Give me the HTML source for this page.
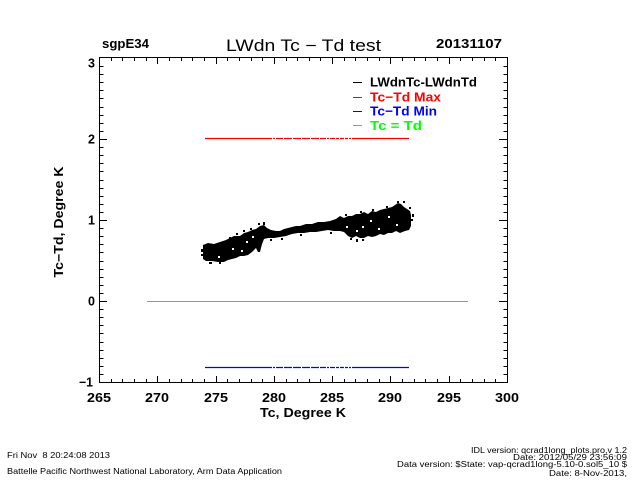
<!DOCTYPE html>
<html>
<head>
<meta charset="utf-8">
<style>
html,body{margin:0;padding:0;background:#fff;}
svg{display:block;}
text{font-family:"Liberation Sans",Arial,sans-serif;}
.b{font-weight:bold;}
</style>
</head>
<body>
<svg width="640" height="480" viewBox="0 0 640 480" xmlns="http://www.w3.org/2000/svg">
<rect x="0" y="0" width="640" height="480" fill="#fff"/>

<!-- header -->
<text x="102" y="48" class="b" font-size="13" textLength="47" lengthAdjust="spacingAndGlyphs">sgpE34</text>
<text x="226" y="51" font-size="16.5" textLength="155" lengthAdjust="spacingAndGlyphs">LWdn Tc − Td test</text>
<text x="436" y="48" class="b" font-size="13" textLength="66" lengthAdjust="spacingAndGlyphs">20131107</text>

<!-- plot box -->
<rect x="99.5" y="57.5" width="408" height="325" fill="none" stroke="#000" stroke-width="1"/>

<!-- x ticks bottom/top -->
<path stroke="#000" stroke-width="1" fill="none" d="
M99.5 382.5V376 M157.5 382.5V376 M216.5 382.5V376 M274.5 382.5V376 M332.5 382.5V376 M390.5 382.5V376 M449.5 382.5V376 M507.5 382.5V376
M111.5 382.5V379 M122.5 382.5V379 M134.5 382.5V379 M146.5 382.5V379
M169.5 382.5V379 M181.5 382.5V379 M192.5 382.5V379 M204.5 382.5V379
M227.5 382.5V379 M239.5 382.5V379 M251.5 382.5V379 M262.5 382.5V379
M286.5 382.5V379 M297.5 382.5V379 M309.5 382.5V379 M320.5 382.5V379
M344.5 382.5V379 M355.5 382.5V379 M367.5 382.5V379 M379.5 382.5V379
M402.5 382.5V379 M414.5 382.5V379 M425.5 382.5V379 M437.5 382.5V379
M460.5 382.5V379 M472.5 382.5V379 M484.5 382.5V379 M495.5 382.5V379
M99.5 57.5V64 M157.5 57.5V64 M216.5 57.5V64 M274.5 57.5V64 M332.5 57.5V64 M390.5 57.5V64 M449.5 57.5V64 M507.5 57.5V64
M111.5 57.5V61 M122.5 57.5V61 M134.5 57.5V61 M146.5 57.5V61
M169.5 57.5V61 M181.5 57.5V61 M192.5 57.5V61 M204.5 57.5V61
M227.5 57.5V61 M239.5 57.5V61 M251.5 57.5V61 M262.5 57.5V61
M286.5 57.5V61 M297.5 57.5V61 M309.5 57.5V61 M320.5 57.5V61
M344.5 57.5V61 M355.5 57.5V61 M367.5 57.5V61 M379.5 57.5V61
M402.5 57.5V61 M414.5 57.5V61 M425.5 57.5V61 M437.5 57.5V61
M460.5 57.5V61 M472.5 57.5V61 M484.5 57.5V61 M495.5 57.5V61
"/>

<!-- y ticks left/right -->
<path stroke="#000" stroke-width="1" fill="none" d="
M99.5 57.5H107 M99.5 139.5H107 M99.5 220.5H107 M99.5 301.5H107 M99.5 382.5H107
M99.5 66.5H103.5 M99.5 74.5H103.5 M99.5 82.5H103.5 M99.5 90.5H103.5 M99.5 98.5H103.5 M99.5 107.5H103.5 M99.5 115.5H103.5 M99.5 123.5H103.5 M99.5 131.5H103.5
M99.5 147.5H103.5 M99.5 155.5H103.5 M99.5 163.5H103.5 M99.5 171.5H103.5 M99.5 180.5H103.5 M99.5 188.5H103.5 M99.5 196.5H103.5 M99.5 204.5H103.5 M99.5 212.5H103.5
M99.5 228.5H103.5 M99.5 236.5H103.5 M99.5 244.5H103.5 M99.5 252.5H103.5 M99.5 261.5H103.5 M99.5 269.5H103.5 M99.5 277.5H103.5 M99.5 285.5H103.5 M99.5 293.5H103.5
M99.5 309.5H103.5 M99.5 317.5H103.5 M99.5 325.5H103.5 M99.5 333.5H103.5 M99.5 342.5H103.5 M99.5 350.5H103.5 M99.5 358.5H103.5 M99.5 366.5H103.5 M99.5 374.5H103.5
M507.5 57.5H499 M507.5 139.5H499 M507.5 220.5H499 M507.5 301.5H499 M507.5 382.5H499
M507.5 66.5H503.5 M507.5 74.5H503.5 M507.5 82.5H503.5 M507.5 90.5H503.5 M507.5 98.5H503.5 M507.5 107.5H503.5 M507.5 115.5H503.5 M507.5 123.5H503.5 M507.5 131.5H503.5
M507.5 147.5H503.5 M507.5 155.5H503.5 M507.5 163.5H503.5 M507.5 171.5H503.5 M507.5 180.5H503.5 M507.5 188.5H503.5 M507.5 196.5H503.5 M507.5 204.5H503.5 M507.5 212.5H503.5
M507.5 228.5H503.5 M507.5 236.5H503.5 M507.5 244.5H503.5 M507.5 252.5H503.5 M507.5 261.5H503.5 M507.5 269.5H503.5 M507.5 277.5H503.5 M507.5 285.5H503.5 M507.5 293.5H503.5
M507.5 309.5H503.5 M507.5 317.5H503.5 M507.5 325.5H503.5 M507.5 333.5H503.5 M507.5 342.5H503.5 M507.5 350.5H503.5 M507.5 358.5H503.5 M507.5 366.5H503.5 M507.5 374.5H503.5
"/>

<!-- y tick labels -->
<g class="b" font-size="12.5" text-anchor="end">
<text x="95" y="67.5">3</text>
<text x="95" y="143.5">2</text>
<text x="95" y="224.5">1</text>
<text x="95" y="305.5">0</text>
<text x="93" y="386.5" textLength="14" lengthAdjust="spacingAndGlyphs">−1</text>
</g>

<!-- x tick labels -->
<g class="b" font-size="12.5">
<text x="87" y="402" textLength="24" lengthAdjust="spacingAndGlyphs">265</text>
<text x="145" y="402" textLength="24" lengthAdjust="spacingAndGlyphs">270</text>
<text x="204" y="402" textLength="24" lengthAdjust="spacingAndGlyphs">275</text>
<text x="262" y="402" textLength="24" lengthAdjust="spacingAndGlyphs">280</text>
<text x="320" y="402" textLength="24" lengthAdjust="spacingAndGlyphs">285</text>
<text x="378" y="402" textLength="24" lengthAdjust="spacingAndGlyphs">290</text>
<text x="437" y="402" textLength="24" lengthAdjust="spacingAndGlyphs">295</text>
<text x="495" y="402" textLength="24" lengthAdjust="spacingAndGlyphs">300</text>
</g>

<!-- axis titles -->
<text x="260" y="417" class="b" font-size="12.5" textLength="86" lengthAdjust="spacingAndGlyphs">Tc, Degree K</text>
<text transform="translate(63,222) rotate(-90)" x="0" y="0" text-anchor="middle" class="b" font-size="12.5" textLength="111" lengthAdjust="spacingAndGlyphs">Tc−Td, Degree K</text>

<!-- reference lines -->
<line x1="147" y1="301.5" x2="468" y2="301.5" stroke="#00ff00" stroke-width="1"/>
<path d="M205 138.5H269" stroke="#ff0000" stroke-width="1.2"/>
<path d="M269 138.5H353" stroke="#ff0000" stroke-width="1.2" stroke-dasharray="3 1 2 1 7 1 8 1 8 1 8 1 8 1 6 1 2 1 5 1 3 1 4 1"/>
<path d="M353 138.5H409" stroke="#ff0000" stroke-width="1.2"/>
<path d="M205 367.5H269" stroke="#0000ff" stroke-width="1.2"/>
<path d="M269 367.5H353" stroke="#0000ff" stroke-width="1.2" stroke-dasharray="3 1 2 1 7 1 8 1 8 1 8 1 8 1 6 1 2 1 5 1 3 1 4 1"/>
<path d="M353 367.5H409" stroke="#0000ff" stroke-width="1.2"/>

<!-- scatter data -->
<path fill="#000" d="M203 245 L208 243 L214 244 L220 242 L226 240 L230 238 L234 236 L240 236 L244 233 L248 232 L252 230 L256 229 L260 226 L264 225 L267 228 L271 230 L276 231 L280 231 L284 229 L288 228 L292 227 L296 226 L300 226 L306 224 L312 224 L318 222 L324 222 L330 221 L336 219 L340 216 L344 218 L348 216 L352 216 L356 214 L360 214 L364 212 L368 214 L372 211 L376 212 L380 210 L384 209 L388 208 L392 207 L395 205 L398 203 L401 204 L404 207 L407 209 L410 211 L411 215
L411 226 L409 230 L405 231 L400 233 L396 231 L392 233 L388 233 L384 235 L380 234 L376 236 L372 237 L368 236 L364 238 L360 238 L356 236 L352 238 L348 236 L344 232 L340 231 L334 231 L328 230 L322 231 L316 232 L310 232 L304 233 L298 233 L292 234 L286 236 L280 237 L274 238 L268 238 L264 239 L262 244 L260 252 L258 252 L256 248 L252 252 L248 255 L244 256 L240 256 L236 258 L232 259 L228 260 L224 262 L218 262 L212 261 L206 261 L203 259 Z"/>
<g fill="#fff">
<rect x="232" y="248" width="2" height="2"/>
<rect x="246" y="241" width="2" height="2"/>
<rect x="252" y="236" width="2" height="2"/>
<rect x="241" y="250" width="2" height="2"/>
<rect x="362" y="226" width="2" height="2"/>
<rect x="370" y="220" width="2" height="2"/>
<rect x="378" y="228" width="2" height="2"/>
<rect x="388" y="216" width="2" height="2"/>
<rect x="356" y="230" width="2" height="2"/>
<rect x="346" y="226" width="2" height="2"/>
<rect x="396" y="224" width="2" height="2"/>
<rect x="218" y="256" width="2" height="2"/>
</g>
<g fill="#000">
<rect x="201" y="249" width="2" height="3"/>
<rect x="201" y="254" width="2" height="2"/>
<rect x="209" y="262" width="3" height="2"/>
<rect x="219" y="262" width="2" height="2"/>
<rect x="229" y="237" width="2" height="2"/>
<rect x="236" y="233" width="2" height="2"/>
<rect x="243" y="230" width="2" height="2"/>
<rect x="250" y="228" width="2" height="2"/>
<rect x="258" y="223" width="2" height="2"/>
<rect x="263" y="222" width="2" height="3"/>
<rect x="412" y="214" width="2" height="3"/>
<rect x="411" y="219" width="2" height="2"/>
<rect x="409" y="207" width="2" height="2"/>
<rect x="403" y="201" width="2" height="2"/>
<rect x="397" y="201" width="2" height="2"/>
<rect x="386" y="206" width="2" height="2"/>
<rect x="372" y="209" width="2" height="2"/>
<rect x="360" y="211" width="2" height="2"/>
<rect x="345" y="214" width="2" height="2"/>
<rect x="356" y="239" width="2" height="3"/>
<rect x="362" y="239" width="2" height="2"/>
<rect x="350" y="238" width="2" height="2"/>
<rect x="330" y="232" width="2" height="2"/>
<rect x="300" y="234" width="2" height="2"/>
<rect x="281" y="238" width="2" height="2"/>
<rect x="270" y="239" width="2" height="2"/>
</g>

<!-- legend -->
<g stroke-width="1">
<line x1="353" y1="82.5" x2="362" y2="82.5" stroke="#000"/>
<line x1="353" y1="97.5" x2="362" y2="97.5" stroke="#ff0000"/>
<line x1="353" y1="111.5" x2="362" y2="111.5" stroke="#0000ff"/>
<line x1="353" y1="125.5" x2="362" y2="125.5" stroke="#00ff00"/>
</g>
<g class="b" font-size="13">
<text x="370" y="86.5" fill="#000" textLength="107" lengthAdjust="spacingAndGlyphs">LWdnTc-LWdnTd</text>
<text x="370" y="101.5" fill="#ff0000" textLength="71" lengthAdjust="spacingAndGlyphs">Tc−Td Max</text>
<text x="370" y="115.5" fill="#0000ff" textLength="67" lengthAdjust="spacingAndGlyphs">Tc−Td Min</text>
<text x="370" y="130" fill="#00ff00" textLength="52" lengthAdjust="spacingAndGlyphs">Tc = Td</text>
</g>

<!-- footer -->
<g font-size="8">
<text x="7" y="458" textLength="103" lengthAdjust="spacingAndGlyphs" xml:space="preserve">Fri Nov  8 20:24:08 2013</text>
<text x="7" y="474" textLength="275" lengthAdjust="spacingAndGlyphs">Battelle Pacific Northwest National Laboratory, Arm Data Application</text>
<text x="471" y="453" textLength="156" lengthAdjust="spacingAndGlyphs">IDL version: qcrad1long_plots.pro,v 1.2</text>
<text x="513" y="460" textLength="114" lengthAdjust="spacingAndGlyphs">Date: 2012/05/29 23:56:09</text>
<text x="397" y="467" textLength="230" lengthAdjust="spacingAndGlyphs">Data version: $State: vap-qcrad1long-5.10-0.sol5_10 $</text>
<text x="549" y="476" textLength="78" lengthAdjust="spacingAndGlyphs">Date: 8-Nov-2013,</text>
</g>
</svg>
</body>
</html>
